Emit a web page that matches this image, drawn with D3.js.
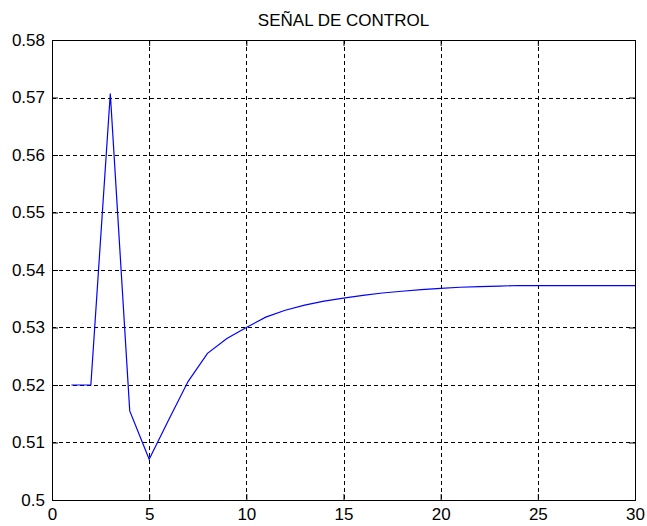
<!DOCTYPE html>
<html>
<head>
<meta charset="utf-8">
<script src="https://cdn.jsdelivr.net/npm/d3@7"></script>
<style>
  body { margin: 0; background: #fff; }
  svg { display: block; font-family: "Liberation Sans", Arial, sans-serif; }
</style>
</head>
<body>
<div id="chart"></div>
<script>
// Control signal samples, k = 1..30
const steps = [1, 2, 3, 4, 5, 6, 7, 8, 9, 10, 11, 12, 13, 14, 15, 16, 17, 18, 19, 20,
               21, 22, 23, 24, 25, 26, 27, 28, 29, 30];
const signal = [0.5200, 0.5200, 0.5707, 0.5155, 0.5071, 0.5139, 0.5206, 0.5255, 0.5281, 0.5300,
                0.5318, 0.5330, 0.5339, 0.5346, 0.5351, 0.5356, 0.5360, 0.5363, 0.5366, 0.5368,
                0.5370, 0.5371, 0.5372, 0.5373, 0.5373, 0.5373, 0.5373, 0.5373, 0.5373, 0.5373];
const xTicks = [0, 5, 10, 15, 20, 25, 30];
const yTicks = [0.5, 0.51, 0.52, 0.53, 0.54, 0.55, 0.56, 0.57, 0.58];
const title = 'SEÑAL DE CONTROL';

const W = 647, H = 526;
const margin = { top: 40, right: 12, bottom: 26, left: 52 };
const width = W - margin.left - margin.right;
const height = H - margin.top - margin.bottom;

const svg = d3.select('#chart').append('svg')
  .attr('width', W)
  .attr('height', H);

const g = svg.append('g')
  .attr('transform', `translate(${margin.left},${margin.top})`);

const x = d3.scaleLinear().domain([0, 30]).range([0, width]);
const y = d3.scaleLinear().domain([0.5, 0.58]).range([height, 0]);

// grid (dashed)
g.append('g').selectAll('line')
  .data(xTicks.slice(1, -1))
  .enter().append('line')
  .attr('x1', d => Math.round(x(d)) + 0.5).attr('x2', d => Math.round(x(d)) + 0.5)
  .attr('y1', 0).attr('y2', height)
  .attr('stroke', '#000').attr('stroke-dasharray', '4,3');

g.append('g').selectAll('line')
  .data(yTicks.slice(1, -1))
  .enter().append('line')
  .attr('y1', d => Math.round(y(d)) + 0.5).attr('y2', d => Math.round(y(d)) + 0.5)
  .attr('x1', 0).attr('x2', width)
  .attr('stroke', '#000').attr('stroke-dasharray', '4,3');

// axes, ticks inward
const tickLen = 6;
const xAxis = d3.axisBottom(x).tickValues(xTicks).tickSize(-tickLen).tickPadding(8).tickFormat(d3.format('d'));
const yAxis = d3.axisLeft(y).tickValues(yTicks).tickSize(-tickLen).tickPadding(7).tickFormat(d => d3.format('')(+d.toFixed(2)));

const gx = g.append('g').attr('transform', `translate(0,${height})`).call(xAxis);
const gy = g.append('g').call(yAxis);
const gxTop = g.append('g').call(d3.axisTop(x).tickValues(xTicks).tickSize(-tickLen).tickFormat(''));
const gyRight = g.append('g').attr('transform', `translate(${width},0)`)
  .call(d3.axisRight(y).tickValues(yTicks).tickSize(-tickLen).tickFormat(''));

[gx, gy, gxTop, gyRight].forEach(a => {
  a.select('.domain').remove();
  a.selectAll('line').attr('stroke', '#000');
  a.selectAll('text').attr('fill', '#000').style('font-size', '17px')
    .style('font-family', '"Liberation Sans", Arial, sans-serif');
});

// box
g.append('rect')
  .attr('x', 0.5).attr('y', 0.5)
  .attr('width', width).attr('height', height)
  .attr('fill', 'none').attr('stroke', '#000');

// signal line
const line = d3.line()
  .x((d, i) => x(steps[i]))
  .y(d => y(d));

g.append('path')
  .datum(signal)
  .attr('d', line)
  .attr('fill', 'none')
  .attr('stroke', '#0000ff')
  .attr('stroke-width', 1.2);

// title
svg.append('text')
  .attr('x', margin.left + width / 2)
  .attr('y', 26)
  .attr('text-anchor', 'middle')
  .style('font-size', '17px')
  .text(title);
</script>
</body>
</html>
